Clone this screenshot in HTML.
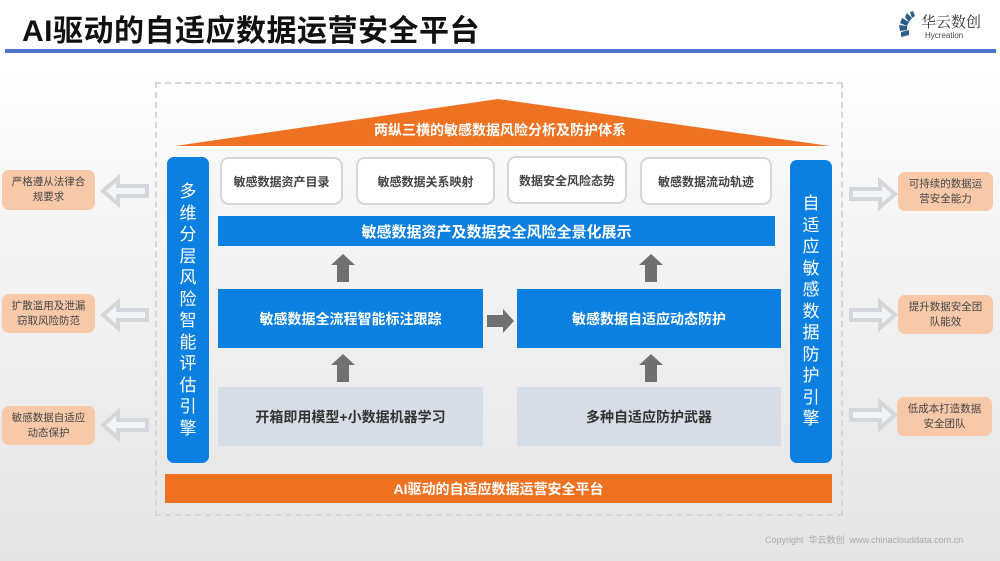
<!DOCTYPE html>
<html><head><meta charset="utf-8"><style>
*{margin:0;padding:0;box-sizing:border-box}
body{width:1000px;height:561px;position:relative;overflow:hidden;font-family:"Liberation Sans","Noto Sans CJK SC",sans-serif;background:linear-gradient(#fff 0px,#fff 70px,#f6f6f6 200px,#e4e4e4 561px)}
.a{position:absolute}
.c{display:flex;align-items:center;justify-content:center;text-align:center}
.tb{background:#fff;border:2px solid #d3d6da;border-radius:9px;color:#444;font-size:12px;font-weight:bold}
.bl{background:#0c80e0;color:#fff;font-weight:bold}
.gr{background:#d6dde6;color:#333;font-size:14px;font-weight:bold}
.or{background:#f7c9a8;border-radius:7px;color:#444;font-size:10.5px;line-height:15px}
.vb{background:#0c80e0;border-radius:7px;color:#fff;font-size:17px;line-height:21.5px;flex-direction:column;width:42px}
</style></head><body>
<div class="a" style="left:22px;top:6px;font-size:30px;font-weight:bold;color:#111;letter-spacing:0.5px">AI驱动的自适应数据运营安全平台</div>
<div class="a" style="left:5px;top:49px;width:991px;height:4px;background:#4a76c7"></div>
<svg class="a" style="left:895px;top:10px" width="30" height="30"><g fill="#2e5f86"><polygon points="6,22 14,20 14,25 6,27"/><polygon points="4,15 12,16 12,20 5,21"/><polygon points="7,8 14,12 12,16 5,13"/><polygon points="12,3 17,8 14,12 10,7"/><polygon points="18,1 20,6 17,8 15,2"/></g></svg>
<div class="a" style="left:921px;top:11px;font-size:15px;color:#333;font-family:'Liberation Serif','Noto Serif CJK SC',serif">华云数创</div>
<div class="a" style="left:925px;top:31px;font-size:8px;color:#444">Hycreation</div>

<div class="a" style="left:155px;top:82px;width:688px;height:434px;border:2px dashed #d4d7da"></div>
<svg class="a" style="left:0;top:0" width="1000" height="561">
<polygon points="175,146 498,99 830,146" fill="#ee7221"/>
<g fill="#707070"><polygon points="343,254 355,265 349,265 349,282 337,282 337,265 331,265"/>
<polygon points="651,254 663,265 657,265 657,282 645,282 645,265 639,265"/>
<polygon points="343,354 355,365 349,365 349,382 337,382 337,365 331,365"/>
<polygon points="651,354 663,365 657,365 657,382 645,382 645,365 639,365"/>
<polygon points="514,321 503,309 503,315 487,315 487,327 503,327 503,333"/></g>
<g fill="#f3f4f5" stroke="#d3d7dc" stroke-width="4">
<polygon points="103,191 118,178 118,186 147,186 147,196 118,196 118,204"/>
<polygon points="103,315 118,302 118,310 147,310 147,320 118,320 118,328"/>
<polygon points="103,425 118,412 118,420 147,420 147,430 118,430 118,438"/>
<polygon points="895,194 880,181 880,189 851,189 851,199 880,199 880,207"/>
<polygon points="895,315 880,302 880,310 851,310 851,320 880,320 880,328"/>
<polygon points="895,415 880,402 880,410 851,410 851,420 880,420 880,428"/></g>
</svg>
<div class="a c" style="left:300px;top:119px;width:400px;height:22px;color:#fff;font-size:14px;font-weight:bold">两纵三横的敏感数据风险分析及防护体系</div>

<div class="a c vb" style="left:167px;top:157px;height:306px">多<br>维<br>分<br>层<br>风<br>险<br>智<br>能<br>评<br>估<br>引<br>擎</div>
<div class="a c vb" style="left:790px;top:160px;height:303px">自<br>适<br>应<br>敏<br>感<br>数<br>据<br>防<br>护<br>引<br>擎</div>

<div class="a c tb" style="left:220px;top:157px;width:123px;height:48px">敏感数据资产目录</div>
<div class="a c tb" style="left:356px;top:157px;width:139px;height:48px">敏感数据关系映射</div>
<div class="a c tb" style="left:507px;top:156px;width:120px;height:48px">数据安全风险态势</div>
<div class="a c tb" style="left:640px;top:157px;width:132px;height:48px">敏感数据流动轨迹</div>

<div class="a c bl" style="left:218px;top:216px;width:557px;height:30px;font-size:15px">敏感数据资产及数据安全风险全景化展示</div>
<div class="a c bl" style="left:218px;top:289px;width:265px;height:59px;font-size:14px">敏感数据全流程智能标注跟踪</div>
<div class="a c bl" style="left:517px;top:289px;width:264px;height:59px;font-size:14px">敏感数据自适应动态防护</div>
<div class="a c gr" style="left:218px;top:387px;width:265px;height:59px">开箱即用模型+小数据机器学习</div>
<div class="a c gr" style="left:517px;top:387px;width:264px;height:59px">多种自适应防护武器</div>

<div class="a c" style="left:165px;top:474px;width:667px;height:29px;background:#ee7221;color:#fff;font-size:14px;font-weight:bold">AI驱动的自适应数据运营安全平台</div>

<div class="a c or" style="left:2px;top:170px;width:93px;height:40px">严格遵从法律合<br>规要求</div>
<div class="a c or" style="left:2px;top:294px;width:93px;height:39px">扩散滥用及泄漏<br>窃取风险防范</div>
<div class="a c or" style="left:2px;top:406px;width:93px;height:39px">敏感数据自适应<br>动态保护</div>
<div class="a c or" style="left:898px;top:172px;width:95px;height:39px">可持续的数据运<br>营安全能力</div>
<div class="a c or" style="left:898px;top:295px;width:95px;height:39px">提升数据安全团<br>队能效</div>
<div class="a c or" style="left:897px;top:397px;width:95px;height:39px">低成本打造数据<br>安全团队</div>

<div class="a" style="left:765px;top:533px;font-size:9px;color:#aaa">Copyright &nbsp;华云数创 &nbsp;www.chinaclouddata.com.cn</div>
</body></html>
